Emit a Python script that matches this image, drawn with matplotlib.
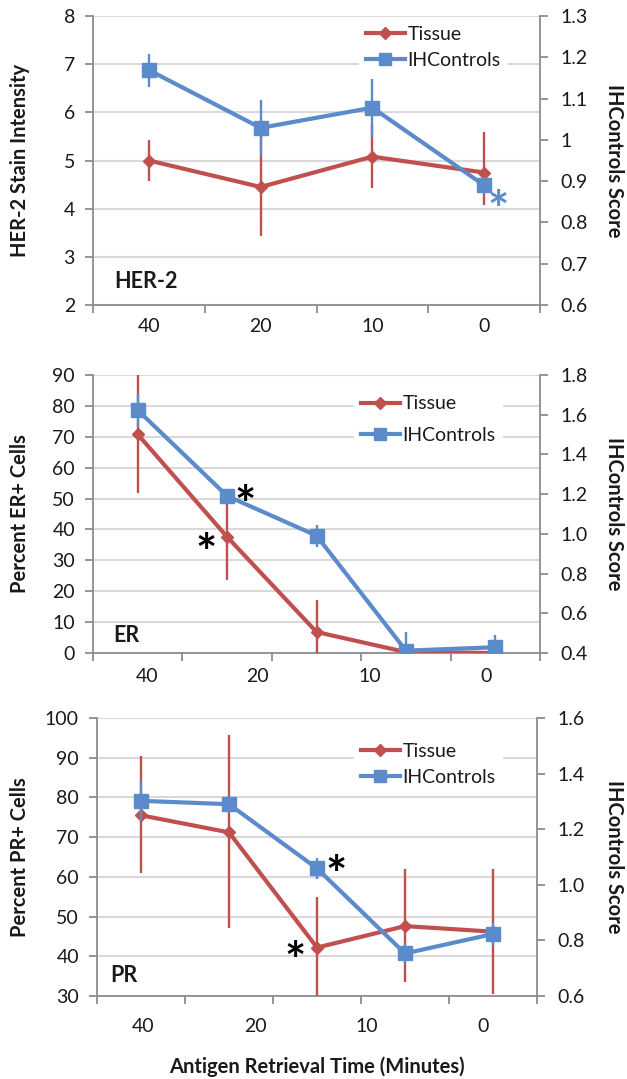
import numpy as np
import matplotlib
matplotlib.use('Agg')
import matplotlib.pyplot as plt
from matplotlib.lines import Line2D

plt.rcParams['font.family'] = ['Lato', 'DejaVu Sans']

# ---------------- data ----------------
x_labels = ['40', '20', '10', '0']
series_names = ['Tissue', 'IHControls']

# HER-2 panel (4 time points)
her2_tissue = [5.0, 4.45, 5.08, 4.75]
her2_tissue_lo = [0.42, 1.02, 0.66, 0.68]
her2_tissue_hi = [0.42, 1.05, 0.66, 0.85]
her2_ihc = [1.169, 1.029, 1.078, 0.890]
her2_ihc_err = [0.040, 0.067, 0.070, 0.020]
her2_yticks = [2, 3, 4, 5, 6, 7, 8]
her2_y2ticks = [0.6, 0.7, 0.8, 0.9, 1.0, 1.1, 1.2, 1.3]
her2_y2labels = ['0.6', '0.7', '0.8', '0.9', '1', '1.1', '1.2', '1.3']

# ER panel (5 time points)
er_tissue = [70.8, 37.6, 6.8, 0.3, 0.0]
er_tissue_lo = [19.0, 14.1, 10.0, 0.0, 0.0]
er_tissue_hi = [19.5, 13.4, 10.2, 0.0, 0.0]
er_ihc = [1.623, 1.191, 0.991, 0.412, 0.429]
er_ihc_err = [0.083, 0.030, 0.055, 0.093, 0.060]
er_yticks = [0, 10, 20, 30, 40, 50, 60, 70, 80, 90]
er_y2ticks = [0.4, 0.6, 0.8, 1.0, 1.2, 1.4, 1.6, 1.8]
er_y2labels = ['0.4', '0.6', '0.8', '1.0', '1.2', '1.4', '1.6', '1.8']

# PR panel (5 time points)
pr_tissue = [75.5, 71.2, 42.2, 47.6, 46.2]
pr_tissue_lo = [14.6, 24.2, 12.8, 14.2, 15.7]
pr_tissue_hi = [14.9, 24.4, 12.8, 14.3, 15.7]
pr_ihc = [1.302, 1.290, 1.059, 0.753, 0.823]
pr_ihc_err = [0.072, 0.030, 0.038, 0.036, 0.039]
pr_yticks = [30, 40, 50, 60, 70, 80, 90, 100]
pr_y2ticks = [0.6, 0.8, 1.0, 1.2, 1.4, 1.6]
pr_y2labels = ['0.6', '0.8', '1.0', '1.2', '1.4', '1.6']

# ---------------- style ----------------
W, H = 627, 1079
RED = '#C0504D'
BLUE = '#5B8BCB'
GRID = '#D9D9D9'
AXC = '#8C8C8C'
TXT = '#1a1a1a'
FS = 14
STAR_FS = 36
STAR_BIAS = -15  # pixels: compensates the asterisk glyph sitting high in its box

fig = plt.figure(figsize=(W / 100, H / 100), dpi=100)


def panel(rect, tissue, t_lo, t_hi, ihc, i_err, yticks, y2ticks, y2labels,
          label_fracs, xpad, ylabel, tag, tag_xy, leg_anchor, leg_spacing, stars):
    l, t, r, b = rect
    ax = fig.add_axes([l / W, 1 - b / H, (r - l) / W, (b - t) / H])
    n = len(tissue)
    x = np.arange(n)
    ax.set_xlim(-0.5, n - 0.5)
    ax.errorbar(x, tissue, yerr=[t_lo, t_hi], color=RED, lw=3, marker='D', ms=6.5,
                mec=RED, mfc=RED, elinewidth=1.7, capsize=0, zorder=3)
    ax.set_ylim(yticks[0], yticks[-1])
    ax.set_yticks(yticks)
    ax.yaxis.grid(True, color=GRID, lw=1.5)
    ax.set_axisbelow(True)

    # x axis: tick marks at category boundaries, labels at given fractions
    ax.set_xticks(np.arange(-0.5, n, 1.0), minor=True)
    ax.set_xticks([-0.5 + n * f for f in label_fracs])
    ax.set_xticklabels(x_labels)
    ax.tick_params(axis='x', which='major', length=0, pad=xpad, labelsize=FS, labelcolor=TXT)
    ax.tick_params(axis='x', which='minor', length=6, width=1.3, color=AXC, direction='out')
    ax.tick_params(axis='y', length=6, width=1.3, color=AXC, pad=7, labelsize=FS, labelcolor=TXT)

    for s in ['top', 'right']:
        ax.spines[s].set_visible(False)
    for s in ['left', 'bottom']:
        ax.spines[s].set_color(AXC)
        ax.spines[s].set_linewidth(1.3)

    ax2 = ax.twinx()
    ax2.errorbar(x, ihc, yerr=i_err, color=BLUE, lw=3, marker='s', ms=9.5,
                 mec=BLUE, mfc=BLUE, elinewidth=1.7, capsize=0, zorder=3)
    ax2.set_ylim(y2ticks[0], y2ticks[-1])
    ax2.set_yticks(y2ticks)
    ax2.set_yticklabels(y2labels)
    ax2.tick_params(axis='y', length=6, width=1.3, color=AXC, pad=9, labelsize=FS, labelcolor=TXT)
    for s in ['top', 'left', 'bottom']:
        ax2.spines[s].set_visible(False)
    ax2.spines['right'].set_color(AXC)
    ax2.spines['right'].set_linewidth(1.3)

    handles = [Line2D([], [], color=RED, lw=3, marker='D', ms=6.5),
               Line2D([], [], color=BLUE, lw=3, marker='s', ms=9)]
    leg = ax2.legend(handles, series_names, loc='center left', bbox_to_anchor=leg_anchor,
                     frameon=True, framealpha=1, facecolor='white', edgecolor='none',
                     fancybox=False, handlelength=2.0, handletextpad=0.15, borderpad=0.35,
                     labelspacing=leg_spacing, fontsize=FS, borderaxespad=0)
    for txt in leg.get_texts():
        txt.set_color(TXT)

    # axis titles
    cy = (t + b) / 2
    fig.text(20 / W, 1 - cy / H, ylabel, rotation=90, ha='center', va='center',
             fontsize=FS + 0.5, fontweight='bold', color=TXT)
    fig.text(614 / W, 1 - cy / H, 'IHControls Score', rotation=270, ha='center', va='center',
             fontsize=FS + 0.5, fontweight='bold', color=TXT)
    fig.text(tag_xy[0] / W, 1 - tag_xy[1] / H, tag, ha='center', va='center',
             fontsize=FS + 1.5, fontweight='bold', color=TXT)

    for which, idx, dx, dy, col in stars:
        a = ax if which == 0 else ax2
        yv = tissue[idx] if which == 0 else ihc[idx]
        a.annotate('*', xy=(idx, yv), xytext=(dx, dy + STAR_BIAS), textcoords='offset pixels',
                   ha='center', va='center', fontsize=STAR_FS, fontweight='bold', color=col,
                   zorder=6, annotation_clip=False)
    return ax, ax2


panel((93, 16, 540, 305), her2_tissue, her2_tissue_lo, her2_tissue_hi, her2_ihc, her2_ihc_err,
      her2_yticks, her2_y2ticks, her2_y2labels, [0.125, 0.375, 0.625, 0.875], 9,
      'HER-2 Stain Intensity', 'HER-2', (146, 281), (0.595, 0.891), 0.45,
      [(1, 3, 14, -12, BLUE)])

panel((93, 375, 540, 653), er_tissue, er_tissue_lo, er_tissue_hi, er_ihc, er_ihc_err,
      er_yticks, er_y2ticks, er_y2labels, [0.121, 0.369, 0.620, 0.879], 11,
      'Percent ER+ Cells', 'ER', (126, 636), (0.584, 0.839), 0.75,
      [(1, 1, 18, 3, 'black'), (0, 1, -21, -4, 'black')])

panel((97, 718, 537, 996), pr_tissue, pr_tissue_lo, pr_tissue_hi, pr_ihc, pr_ihc_err,
      pr_yticks, pr_y2ticks, pr_y2labels, [0.105, 0.359, 0.614, 0.877], 16,
      'Percent PR+ Cells', 'PR', (124, 975), (0.584, 0.833), 0.45,
      [(1, 2, 19, 6, 'black'), (0, 2, -22, -1, 'black')])

fig.text(317 / W, 1 - 1067 / H, 'Antigen Retrieval Time (Minutes)', ha='center', va='center',
         fontsize=FS + 0.5, fontweight='bold', color=TXT)

fig.savefig('out.png', dpi=100)
